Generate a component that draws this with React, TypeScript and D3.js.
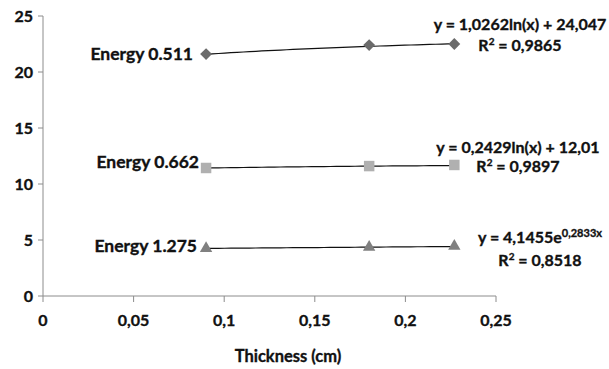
import React from "react";
import * as d3 from "d3";

const thickness = [0.09, 0.18, 0.227];
const energy511 = [21.6, 22.4, 22.5];
const energy662 = [11.43, 11.6, 11.7];
const energy1275 = [4.25, 4.35, 4.45];

const xTicks = [0, 0.05, 0.1, 0.15, 0.2, 0.25];
const yTicks = [0, 5, 10, 15, 20, 25];

// trendline coefficients as shown in the chart's equations
const fit511 = { kind: "log", a: 1.0262, b: 24.047 };
const fit662 = { kind: "log", a: 0.2429, b: 12.01 };
const fit1275 = { kind: "exp", a: 4.1455, b: 0.2833 };

const seriesList = [
  { name: "Energy 0.511", values: energy511, fit: fit511, marker: "diamond", color: "#6b6b6b", eq: "y = 1,0262ln(x) + 24,047", r2: "0,9865" },
  { name: "Energy 0.662", values: energy662, fit: fit662, marker: "square", color: "#b0b0b0", eq: "y = 0,2429ln(x) + 12,01", r2: "0,9897" },
  { name: "Energy 1.275", values: energy1275, fit: fit1275, marker: "triangle", color: "#808080", eq: "y = 4,1455e", sup: "0,2833x", r2: "0,8518" },
];

const FONT = "Lato, 'Open Sans', sans-serif";
const INK = "#111";

export default function App() {
  const width = 609;
  const height = 369;
  const x = d3.scaleLinear().domain([0, 0.25]).range([43, 496]);
  const y = d3.scaleLinear().domain([0, 25]).range([296, 16]);

  const fitFn = (f: any) => (t: number) =>
    f.kind === "log" ? f.a * Math.log(t) + f.b : f.a * Math.exp(f.b * t);

  const line = d3.line<number[]>().x(d => x(d[0])).y(d => y(d[1]));
  const x0 = d3.min(thickness)!;
  const x1 = d3.max(thickness)!;
  const samples = d3.range(0, 41).map(i => x0 + ((x1 - x0) * i) / 40);

  const sym = {
    diamond: d3.symbol().type(d3.symbolDiamond2).size(90),
    square: d3.symbol().type(d3.symbolSquare2).size(140),
    triangle: d3.symbol().type(d3.symbolTriangle2).size(110),
  } as any;

  // label placement (pixels)
  const labelPos = [
    { lx: 193, ly: 60, ex: 520, ey: 30, ry: 51 },
    { lx: 199, ly: 168, ex: 518, ey: 153, ry: 172 },
    { lx: 197, ly: 252, ex: 540, ey: 243, ry: 266 },
  ];

  const bold = { fontWeight: "bold", fill: INK, stroke: INK, strokeWidth: 0.35 } as any;

  return (
    <svg width={width} height={height} style={{ position: "absolute", left: 0, top: 0, background: "#fff" }} fontFamily={FONT}>
      <rect width={width} height={height} fill="#fff" />
      {/* axes */}
      <line x1={x(0)} x2={x(0.25)} y1={y(0)} y2={y(0)} stroke="#8c8c8c" strokeWidth={1} />
      <line x1={x(0)} x2={x(0)} y1={y(0)} y2={y(25)} stroke="#8c8c8c" strokeWidth={1} />
      {yTicks.map(t => (
        <g key={"y" + t}>
          <line x1={x(0) - 5} x2={x(0)} y1={y(t)} y2={y(t)} stroke="#8c8c8c" />
          <text x={33} y={y(t) + 6} textAnchor="end" fontSize={16} {...bold}>{t}</text>
        </g>
      ))}
      {xTicks.map(t => (
        <g key={"x" + t}>
          <line x1={x(t)} x2={x(t)} y1={y(0)} y2={y(0) + 6} stroke="#8c8c8c" />
          <text x={x(t)} y={y(0) + 30} textAnchor="middle" fontSize={16} {...bold}>
            {String(t).replace(".", ",")}
          </text>
        </g>
      ))}
      <text x={288} y={362} textAnchor="middle" fontSize={16.5} {...bold}>Thickness (cm)</text>

      {seriesList.map((s, i) => {
        const f = fitFn(s.fit);
        const p = labelPos[i];
        return (
          <g key={s.name}>
            <path d={line(samples.map(t => [t, f(t)]))!} fill="none" stroke="#111" strokeWidth={1.2} />
            {s.values.map((v, j) => (
              <path key={j} d={sym[s.marker]()} transform={`translate(${x(thickness[j])},${y(v)})`} fill={s.color} />
            ))}
            <text x={p.lx} y={p.ly} textAnchor="end" fontSize={17.5} {...bold}>{s.name}</text>
            <text x={p.ex} y={p.ey} textAnchor="middle" fontSize={16} {...bold}>
              {s.eq}
              {s.sup ? <tspan dy={-6} fontSize={11}>{s.sup}</tspan> : null}
            </text>
            <text x={p.ex} y={p.ry} textAnchor="middle" fontSize={16} {...bold}>
              R<tspan dy={-6} fontSize={10}>2</tspan><tspan dy={6}> = {s.r2}</tspan>
            </text>
          </g>
        );
      })}
    </svg>
  );
}
